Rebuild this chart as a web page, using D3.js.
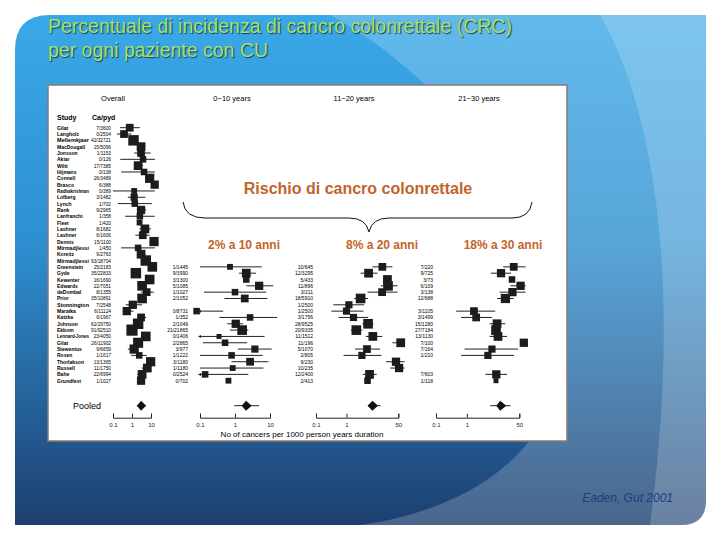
<!DOCTYPE html>
<html lang="en">
<head>
<meta charset="utf-8">
<title>CRC forest plot</title>
<script src="https://cdn.jsdelivr.net/npm/d3@7"></script>
<style>
body { margin: 0; background: #fff; }
text { font-family: "Liberation Sans", Arial, sans-serif; }
</style>
</head>
<body>
<script>
var w = 720, h = 540;

// studies (rows of the forest plot)
var studies = ["Gilat","Langholz","Mellemkjaer","MacDougall","Jonsson","Akiar","Wiltt","Hijmans","Connell","Brasco",
  "Radhakrishnan","Lofberg","Lynch","Rank","Lanfranchi","Fleet","Lashner","Lashner","Dennis","Mirmadjlessi",
  "Koreitz","Mirmadjlessi","Greenstein","Gyde","Kewenter","Edwards","deDombal","Prior","Stonnington","Maratka",
  "Katzka","Johnson","Ekbom","Lennard-Jones","Gilat","Stewenius","Rosen","Thorlakson","Russell","Bahe","Grundfest"];
var overallCases = ["7/3600","0/2504","42/32721","15/5096","1/1153","0/126","17/7385","0/108","26/3489","6/388",
  "0/389","3/1482","1/702","9/2965","1/358","1/420","8/1682","6/1606","15/1100","1/450",
  "9/2763","93/18704","25/2183","35/22833","16/1690","22/7051","8/1355","35/10891","7/2548","6/11124",
  "6/1967","62/29750","91/92510","23/4050","26/11902","9/6659","1/1617","13/1365","11/1750","22/6994","1/1027"];
var overallRate = [0.76,0.38,1.2,3.0,3.0,3.8,2.1,4.3,8.5,15.6,1.3,1.3,1.4,3.0,2.6,2.5,4.8,3.7,14.4,2.1,
  3.0,5.3,11.7,1.6,8.5,3.4,5.9,3.4,1.1,0.53,3.0,2.1,1.0,5.3,2.1,1.3,2.4,9.6,6.4,3.4,3.0];
var overallLo = [0.23,0.16,1.0,1.9,1.3,0.24,1.3,0.27,5.3,11,0.1,0.6,0.18,1.8,0.44,2.3,2.5,1.5,8.9,0.27,
  1.9,4.3,10,1.3,5,2.1,3.0,2.9,0.47,0.33,1.9,1.7,0.85,3.2,1.7,0.6,0.9,6.4,3.2,1.9,2.5];
var overallHi = [2.6,0.92,1.5,5.0,9.6,26,3.8,23,14,25,23,5,11,5.6,15.6,2.7,10,8.5,21,17,
  5,6.4,14,2.0,14,5,14,4,3.4,1.2,5.6,2.6,1.2,8.9,2.6,2.1,5.9,14,10,5,3.6];
var overallWeight = [3,3,6,4,3,2,4,2,4.5,3.5,1.5,2.5,2,3.5,2,1.5,4,3,4.5,2,
  4,6,5,6,5,5,3,5,3.5,3.5,3,6,7,5,5.5,4.5,2,4.5,4,4,3.5];

// sub-period panels cover rows 22..40
var p1Cases = ["1/1445","9/3990","3/1300","5/1085","1/1027","2/1052","","0/8731","1/352","2/1049",
  "21/21865","0/1406","2/2865","3/977","1/1222","3/1180","1/1180","0/2524","0/702"];
var p1Rate = [0.72,2.1,2.1,4.9,1.0,1.9,null,0.08,2.7,1.05,1.6,0.35,0.52,3.7,0.8,2.7,0.86,0.14,0.65];
var p1Lo = [0.1,1.3,1.9,2.1,0.13,0.5,null,0.05,0.36,0.6,0.72,0.05,0.12,1.2,0.1,0.8,0.1,0.05,0.6];
var p1Hi = [5.8,4.0,2.3,12.4,7.7,8.4,null,0.46,20,1.7,2.4,7,2.2,11.2,6.2,9,6.5,2.4,0.7];
var p1Weight = [1.5,4,2,3.5,2,3,0,2,2,3.5,5,1,2,2.5,2,3,1.5,2,1.5];

var p2Cases = ["10/645","12/3295","5/433","11/896","3/211","18/5910","1/2500","1/2500","3/1756","28/9525",
  "20/9335","11/1512","11/196","5/1070","2/805","9/230","10/235","12/2400","2/413"];
var p2Rate = [15,5.3,22,23,14.7,2.9,1.2,1.0,1.7,5.1,2.1,7.3,60,4.7,3.2,42,53,5.7,4.9];
var p2Lo = [7.1,2.9,20,13.3,4.9,1.8,0.37,0.32,0.55,3.3,1.4,4.3,32,1.9,0.8,20,27,3.4,4.7];
var p2Hi = [32,10.4,24,47,47,5.1,3.8,3.6,5.1,7.7,3.3,15,113,12.6,14,100,100,9.8,5.1];
var p2Weight = [3,4,4,5,3,5,2.5,2.5,2.5,5,5,4,4,3,2.5,3.5,3.5,4,2];

var p3Cases = ["7/220","9/725","3/73","6/109","3/138","12/688","","3/1105","3/1499","15/1280",
  "27/7184","13/1130","7/100","7/164","1/210","","","7/603","1/118"];
var p3Rate = [33,12.8,29,55,30,17.7,null,1.7,2.0,9.5,8.8,10.2,70,6.5,4.8,null,null,9,8.8];
var p3Lo = [15,6,27,26,11.5,9.5,null,0.45,0.65,5.5,6.5,5.5,65,0.84,0.65,null,null,4,8.5];
var p3Hi = [80,27,31,90,90,33,null,8.3,6.5,17.7,12,20,75,46,34,null,null,20,9.1];
var p3Weight = [3,3.5,2,3.5,3.5,4.5,0,3,3,4,5,4,3.5,2.5,2.5,0,0,3.5,1];

// pooled estimates: [diamond lo, est, diamond hi, line lo, line hi]
var pooled = [[1.8,3.0,5.5,1.8,5.5],[1.55,2.06,3.0,0.95,4.9],[4.9,7.1,10.8,5.4,13],[9,12,19,5.7,26]];
var periodLabels = ["Overall","0\u221210 years","11\u221220 years","21\u221230 years"];
var riskLabels = ["2% a 10 anni","8% a 20 anni","18% a 30 anni"];
var riskCenters = [244,382,503];

var svg = d3.select("body").append("svg").attr("width", w).attr("height", h);
var defs = svg.append("defs");
var bg = defs.append("linearGradient").attr("id","bg").attr("x1",0).attr("y1",0).attr("x2",0).attr("y2",1);
bg.append("stop").attr("offset","0%").attr("stop-color","#3aa8e8");
bg.append("stop").attr("offset","45%").attr("stop-color","#2e8fd0");
bg.append("stop").attr("offset","100%").attr("stop-color","#1d3f70");

// slide background with rounded corners top-left and bottom-right
svg.append("path")
  .attr("d","M15,50 Q15,15 50,15 L706,15 L706,500 Q706,525 681,525 L15,525 Z")
  .attr("fill","url(#bg)");
svg.append("path")
  .attr("d","M330,15 C470,90 560,250 560,350 C560,450 470,510 360,525 L681,525 Q706,525 706,500 L706,15 Z")
  .attr("fill","#ffffff").attr("opacity",0.2);
svg.append("path")
  .attr("d","M600,15 C660,120 680,300 650,525 L681,525 Q706,525 706,500 L706,15 Z")
  .attr("fill","#ffffff").attr("opacity",0.18);

// title
var title = svg.append("text").attr("x",48).attr("y",33)
  .attr("font-size",19.5).attr("fill","#a3e36e")
  .style("text-shadow","1px 1px 1px #1a3a5a");
title.append("tspan").text("Percentuale di incidenza di cancro colonrettale (CRC)");
title.append("tspan").attr("x",48).attr("dy",24).text("per ogni paziente con CU");

// white figure panel
svg.append("rect").attr("x",48).attr("y",85).attr("width",519).attr("height",356)
  .attr("fill","#fff").attr("stroke","#8a7a70").attr("stroke-width",1.5);

var rowY = d3.scalePoint().domain(d3.range(studies.length)).range([127.7, 380.7]);
var boxSize = d3.scaleSqrt().domain([0,7]).range([0,10]);

var panels = [
  {x: d3.scaleLog().domain([0.1,10]).range([113,151]), ticks:[0.1,1,10], head:113,
   rate: overallRate, lo: overallLo, hi: overallHi, wt: overallWeight, start: 0, cases: null, cx: 0},
  {x: d3.scaleLog().domain([0.1,10]).range([200,270]), ticks:[0.1,1,10], head:232,
   rate: p1Rate, lo: p1Lo, hi: p1Hi, wt: p1Weight, start: 22, cases: p1Cases, cx: 188},
  {x: d3.scaleLog().domain([0.1,50]).range([316,398.3]), ticks:[0.1,1,50], head:354,
   rate: p2Rate, lo: p2Lo, hi: p2Hi, wt: p2Weight, start: 22, cases: p2Cases, cx: 313},
  {x: d3.scaleLog().domain([0.1,50]).range([436,519.3]), ticks:[0.1,1,50], head:479,
   rate: p3Rate, lo: p3Lo, hi: p3Hi, wt: p3Weight, start: 22, cases: p3Cases, cx: 433}
];

// study names and overall counts
svg.append("text").attr("x",57).attr("y",120).attr("font-size",7).attr("font-weight","bold").text("Study");
svg.append("text").attr("x",92).attr("y",120).attr("font-size",7).attr("font-weight","bold").text("Ca/pyd");
svg.selectAll(".nm").data(studies).enter().append("text")
  .attr("x",57).attr("y",(d,i)=>rowY(i)+2).attr("font-size",5).attr("font-weight","bold")
  .attr("textLength",d=>d.length > 10 ? 32 : null).attr("lengthAdjust","spacingAndGlyphs").text(d=>d);
svg.selectAll(".oc").data(overallCases).enter().append("text")
  .attr("x",111).attr("y",(d,i)=>rowY(i)+2).attr("text-anchor","end").attr("font-size",4.8).text(d=>d);

panels.forEach(function(p, k) {
  var g = svg.append("g");
  var dom = p.x.domain();
  g.append("text").attr("x",p.head).attr("y",101).attr("text-anchor","middle").attr("font-size",7.5).text(periodLabels[k]);
  var rows = p.rate.map(function(v, i) { return {v: v, lo: p.lo[i], hi: p.hi[i], wt: p.wt[i], r: p.start + i,
    c: p.cases ? p.cases[i] : null}; });
  if (p.cases) {
    g.selectAll(".cs").data(rows).enter().append("text")
      .attr("x",p.cx).attr("y",d=>rowY(d.r)+2).attr("text-anchor","end").attr("font-size",5).text(d=>d.c);
  }
  var pts = rows.filter(d => d.v != null);
  var cl = v => Math.max(dom[0], Math.min(dom[1]*1.6, v));
  g.selectAll(".ci").data(pts).enter().append("line")
    .attr("x1",d=>p.x(cl(d.lo))).attr("x2",d=>p.x(cl(d.hi)))
    .attr("y1",d=>rowY(d.r)).attr("y2",d=>rowY(d.r)).attr("stroke","#222").attr("stroke-width",1);
  g.selectAll(".bx").data(pts).enter().append("rect")
    .attr("x",d=>p.x(Math.max(d.v,0.07))-boxSize(d.wt)/2 - 0.6).attr("y",d=>rowY(d.r)-boxSize(d.wt)/2 - 0.6)
    .attr("width",d=>boxSize(d.wt)+1.2).attr("height",d=>boxSize(d.wt)+1.2).attr("fill","#1c1c1c");
  // arrows where the interval runs off the scale
  g.selectAll(".al").data(pts.filter(d => d.lo < dom[0])).enter().append("path")
    .attr("d",d=>{var x=p.x(dom[0])-2, y=rowY(d.r); return "M"+x+","+y+" l3,-1.5 l0,3 Z";}).attr("fill","#222");
  // pooled estimate
  var pe = pooled[k], py = 405.7;
  g.append("line").attr("x1",p.x(pe[3])).attr("x2",p.x(pe[4])).attr("y1",py).attr("y2",py).attr("stroke","#222");
  g.append("path").attr("fill","#111")
    .attr("d","M"+p.x(pe[0])+","+py+" L"+p.x(pe[1])+","+(py-5)+" L"+p.x(pe[2])+","+py+" L"+p.x(pe[1])+","+(py+5)+" Z");
  // axis
  var ax = g.append("g").attr("transform","translate(0,417.7)")
    .call(d3.axisBottom(p.x).tickValues(p.ticks).tickFormat(d3.format("~g")).tickSizeInner(-4).tickSizeOuter(-4).tickPadding(5));
  ax.selectAll("text").attr("font-size",6).attr("fill","#222").style("font-family","Liberation Sans, Arial");
  ax.selectAll("path,line").attr("stroke","#222");
});

svg.append("text").attr("x",73).attr("y",409).attr("font-size",9).text("Pooled");
svg.append("text").attr("x",302).attr("y",437).attr("text-anchor","middle").attr("font-size",8)
  .text("No of cancers per 1000 person years duration");

// overlay annotations
svg.append("text").attr("x",358).attr("y",194).attr("text-anchor","middle").attr("font-size",16)
  .attr("font-weight","bold").attr("fill","#c2642a").text("Rischio di cancro colonrettale");
svg.append("path").attr("fill","none").attr("stroke","#111").attr("stroke-width",1)
  .attr("d","M183,202 Q185,218 205,218 L349,218 Q366,218 369,232 Q372,218 389,218 L512,218 Q530,218 532,202");
svg.selectAll(".rk").data(riskLabels).enter().append("text")
  .attr("x",(d,i)=>riskCenters[i]).attr("y",249).attr("text-anchor","middle")
  .attr("font-size",12).attr("font-weight","bold").attr("fill","#c2642a").text(d=>d);

svg.append("text").attr("x",673).attr("y",502).attr("text-anchor","end").attr("font-size",12)
  .attr("font-style","italic").attr("fill","#1f3f7a").text("Eaden, Gut  2001");
</script>
</body>
</html>
